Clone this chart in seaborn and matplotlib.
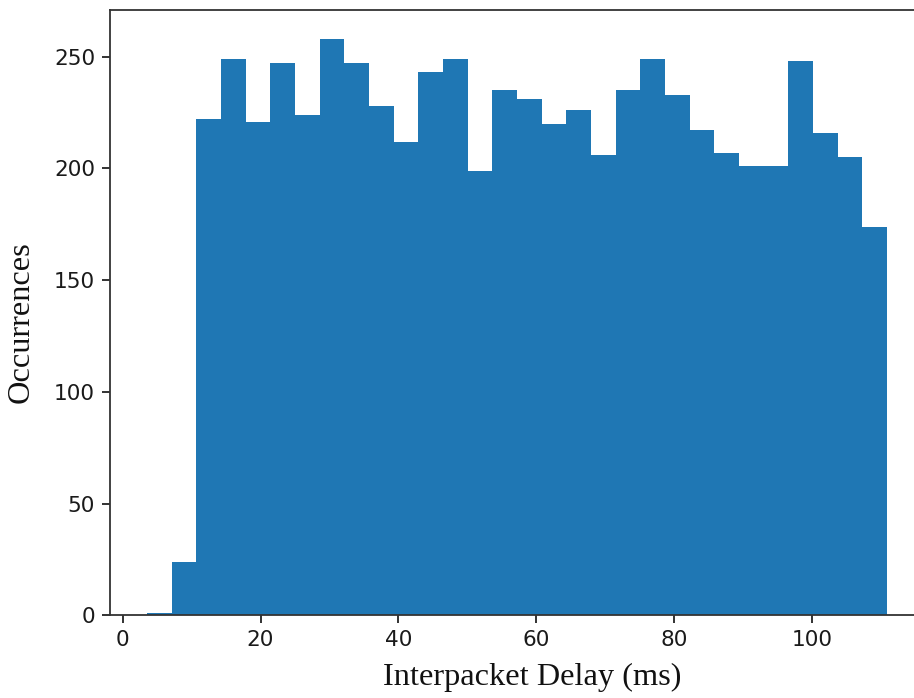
import numpy as np
import pandas as pd
import matplotlib
matplotlib.use("Agg")
import matplotlib.pyplot as plt
import seaborn as sns

# Histogram of interpacket delays: 30 equal bins between the min and max delay
delay_min = 3.54
delay_max = 110.9
n_bins = 30
counts = [1, 24, 222, 249, 221, 247, 224, 258, 247, 228,
          212, 243, 249, 199, 235, 231, 220, 226, 206, 235,
          249, 233, 217, 207, 201, 201, 248, 216, 205, 174]
x_ticks = [0, 20, 40, 60, 80, 100]
y_ticks = [0, 50, 100, 150, 200, 250]

edges = np.linspace(delay_min, delay_max, n_bins + 1)
centers = (edges[:-1] + edges[1:]) / 2
df = pd.DataFrame({"delay": centers, "count": counts})

sns.set_style("ticks")
plt.rcParams.update({
    "axes.edgecolor": "#333333",
    "axes.linewidth": 1.3,
    "xtick.major.size": 5.7,
    "ytick.major.size": 5.7,
    "xtick.major.width": 1.3,
    "ytick.major.width": 1.3,
    "xtick.color": "#222222",
    "ytick.color": "#222222",
    "font.family": ["DejaVu Sans"],
})

fig = plt.figure(figsize=(9.14, 6.98), dpi=100)
ax = fig.add_axes([0.1204, 0.1182, 0.8906, 0.8675])

sns.histplot(data=df, x="delay", weights="count", bins=n_bins,
             binrange=(delay_min, delay_max),
             color="#1f77b4", alpha=1.0, linewidth=0, ax=ax)

span = delay_max - delay_min
ax.set_xlim(delay_min - 0.05 * span, delay_max + 0.05 * span)
ax.set_ylim(0, max(counts) * 1.05)
ax.set_xticks(x_ticks)
ax.set_yticks(y_ticks)
ax.tick_params(labelsize=15.6, pad=5, labelcolor="#1a1a1a")

for side in ["top", "right", "left", "bottom"]:
    ax.spines[side].set_visible(True)

label_font = {"family": ["Liberation Serif"], "size": 23.3, "color": "#111111"}
ax.set_xlabel("Interpacket Delay (ms)", **label_font)
ax.set_ylabel("Occurrences", **label_font)
ax.xaxis.set_label_coords(0.518, -0.078)
ax.yaxis.set_label_coords(-0.091, 0.485)

fig.savefig("out.png", dpi=100)
